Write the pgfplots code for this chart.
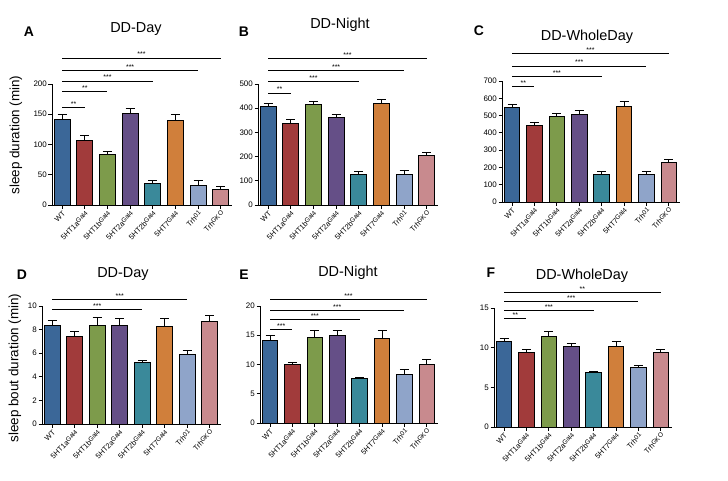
\documentclass[border=0pt]{standalone}
\usepackage{fontspec}
\setmainfont{Liberation Sans}
\usepackage{pgfplots}
\pgfplotsset{compat=1.18}
\definecolor{cWT}{HTML}{3B6798}
\definecolor{cOneA}{HTML}{A13B3B}
\definecolor{cOneB}{HTML}{7D9B4B}
\definecolor{cTwoA}{HTML}{654F87}
\definecolor{cTwoB}{HTML}{3A899A}
\definecolor{cSeven}{HTML}{D07F3B}
\definecolor{cTrh}{HTML}{8FA4C9}
\definecolor{cGKO}{HTML}{C88A8E}
\newcommand{\sps}[1]{\raisebox{0.45ex}{\fontsize{6.5}{7}\selectfont #1}}
\newcommand{\bb}[4]{\addplot[ybar, bar width=0.7, bar shift=0pt, fill=#1, draw=black, line width=0.9pt,
  error bars/.cd, y dir=plus, y explicit, error bar style={line width=0.9pt, black},
  error mark options={rotate=90, line width=0.9pt, mark size=4.5bp, black}] coordinates {(#2,#3) +- (0,#4)};}
\newcommand{\sig}[3]{\addplot[sharp plot, black, line width=0.8pt, mark=none] coordinates {(0,#2) (#1,#2)}
  node[pos=0.5, above, inner sep=0.6pt, font=\fontsize{7}{7}\selectfont] {#3};}
\pgfplotsset{panel/.style={scale only axis, anchor=south west, xmin=-0.45, xmax=7.5, ymin=0, clip=false,
  axis x line*=bottom, axis y line*=left, axis line style={line width=0.9pt},
  tick align=outside, major tick length=3.5bp, tick style={black, line width=0.9pt},
  xtick={0,...,7},
  xticklabels={WT, 5HT1a\sps{Gal4}, 5HT1b\sps{Gal4}, 5HT2a\sps{Gal4},
    5HT2b\sps{Gal4}, 5HT7\sps{Gal4}, Trh\sps{01}, Trh\sps{GKO}},
  xticklabel style={rotate=45, anchor=north east, inner sep=1pt, font=\fontsize{7.5}{8}\selectfont},
  yticklabel style={font=\fontsize{8}{9}\selectfont, inner sep=1.5pt},
  /pgf/number format/assume math mode=true, /pgf/number format/1000 sep={}}}
\begin{document}
\begin{tikzpicture}
\path[use as bounding box] (0,0) rectangle (728bp,-481bp);
% Panel A
\begin{axis}[panel, at={(52bp,-205bp)}, width=180bp, height=121bp, ymax=200, ytick={0,50,...,200}]
\bb{cWT}{0}{142}{8}
\bb{cOneA}{1}{107}{8}
\bb{cOneB}{2}{83}{6}
\bb{cTwoA}{3}{151}{9}
\bb{cTwoB}{4}{36}{4}
\bb{cSeven}{5}{139}{10}
\bb{cTrh}{6}{33}{8}
\bb{cGKO}{7}{26}{5}
\sig{1}{161}{**}
\sig{2}{188}{**}
\sig{4}{205}{***}
\sig{6}{222}{***}
\sig{7}{243}{***}
\end{axis}
% Panel B
\begin{axis}[panel, at={(258bp,-205bp)}, width=180bp, height=121bp, ymax=500, ytick={0,100,...,500}]
\bb{cWT}{0}{407}{13}
\bb{cOneA}{1}{337}{15}
\bb{cOneB}{2}{417}{11}
\bb{cTwoA}{3}{362}{12}
\bb{cTwoB}{4}{128}{10}
\bb{cSeven}{5}{421}{14}
\bb{cTrh}{6}{128}{14}
\bb{cGKO}{7}{206}{12}
\sig{1}{463}{**}
\sig{4}{510}{***}
\sig{6}{555}{***}
\sig{7}{604}{***}
\end{axis}
% Panel C
\begin{axis}[panel, at={(502bp,-202bp)}, width=178bp, height=121bp, ymax=700, ytick={0,100,...,700}]
\bb{cWT}{0}{547}{16}
\bb{cOneA}{1}{443}{19}
\bb{cOneB}{2}{495}{16}
\bb{cTwoA}{3}{509}{21}
\bb{cTwoB}{4}{162}{12}
\bb{cSeven}{5}{555}{25}
\bb{cTrh}{6}{159}{17}
\bb{cGKO}{7}{228}{18}
\sig{1}{667}{**}
\sig{4}{727}{***}
\sig{6}{787}{***}
\sig{7}{861}{***}
\end{axis}
% Panel D
\begin{axis}[panel, at={(42bp,-424bp)}, width=179bp, height=118bp, ymax=10, ytick={0,2,...,10}]
\bb{cWT}{0}{8.31}{0.45}
\bb{cOneA}{1}{7.39}{0.48}
\bb{cOneB}{2}{8.31}{0.71}
\bb{cTwoA}{3}{8.37}{0.56}
\bb{cTwoB}{4}{5.22}{0.15}
\bb{cSeven}{5}{8.23}{0.70}
\bb{cTrh}{6}{5.90}{0.30}
\bb{cGKO}{7}{8.70}{0.46}
\sig{4}{9.72}{***}
\sig{6}{10.53}{***}
\end{axis}
% Panel E
\begin{axis}[panel, at={(260bp,-423bp)}, width=178bp, height=117bp, ymax=20, ytick={0,5,...,20}]
\bb{cWT}{0}{14.05}{0.95}
\bb{cOneA}{1}{10.03}{0.37}
\bb{cOneB}{2}{14.67}{1.08}
\bb{cTwoA}{3}{14.96}{0.90}
\bb{cTwoB}{4}{7.54}{0.22}
\bb{cSeven}{5}{14.39}{1.36}
\bb{cTrh}{6}{8.33}{0.74}
\bb{cGKO}{7}{10.03}{0.85}
\sig{1}{16.0}{***}
\sig{4}{17.68}{***}
\sig{6}{19.26}{***}
\sig{7}{21.08}{***}
\end{axis}
% Panel F
\begin{axis}[panel, at={(494bp,-427bp)}, width=178bp, height=119bp, ymax=15, ytick={0,5,...,15}]
\bb{cWT}{0}{10.77}{0.33}
\bb{cOneA}{1}{9.42}{0.38}
\bb{cOneB}{2}{11.45}{0.55}
\bb{cTwoA}{3}{10.14}{0.42}
\bb{cTwoB}{4}{6.89}{0.12}
\bb{cSeven}{5}{10.14}{0.63}
\bb{cTrh}{6}{7.52}{0.21}
\bb{cGKO}{7}{9.38}{0.38}
\sig{1}{13.65}{**}
\sig{4}{14.7}{***}
\sig{6}{15.8}{***}
\sig{7}{17.0}{**}
\end{axis}
% panel letters
\node[font=\fontsize{14}{14}\selectfont\bfseries] at (29bp,-32bp) {A};
\node[font=\fontsize{14}{14}\selectfont\bfseries] at (244bp,-32bp) {B};
\node[font=\fontsize{14}{14}\selectfont\bfseries] at (479bp,-31bp) {C};
\node[font=\fontsize{14}{14}\selectfont\bfseries] at (22bp,-275bp) {D};
\node[font=\fontsize{14}{14}\selectfont\bfseries] at (244bp,-275bp) {E};
\node[font=\fontsize{14}{14}\selectfont\bfseries] at (491bp,-273bp) {F};
% titles
\node[font=\fontsize{14.5}{15}\selectfont] at (136bp,-29bp) {DD-Day};
\node[font=\fontsize{14.5}{15}\selectfont] at (340bp,-25bp) {DD-Night};
\node[font=\fontsize{14.5}{15}\selectfont] at (587bp,-37bp) {DD-WholeDay};
\node[font=\fontsize{14.5}{15}\selectfont] at (123bp,-274bp) {DD-Day};
\node[font=\fontsize{14.5}{15}\selectfont] at (348bp,-273bp) {DD-Night};
\node[font=\fontsize{14.5}{15}\selectfont] at (582bp,-276bp) {DD-WholeDay};
% y labels
\node[rotate=90, font=\fontsize{13.5}{14}\selectfont] at (16bp,-135bp) {sleep duration (min)};
\node[rotate=90, font=\fontsize{13.5}{14}\selectfont] at (15bp,-368bp) {sleep bout duration (min)};
\end{tikzpicture}
\end{document}
